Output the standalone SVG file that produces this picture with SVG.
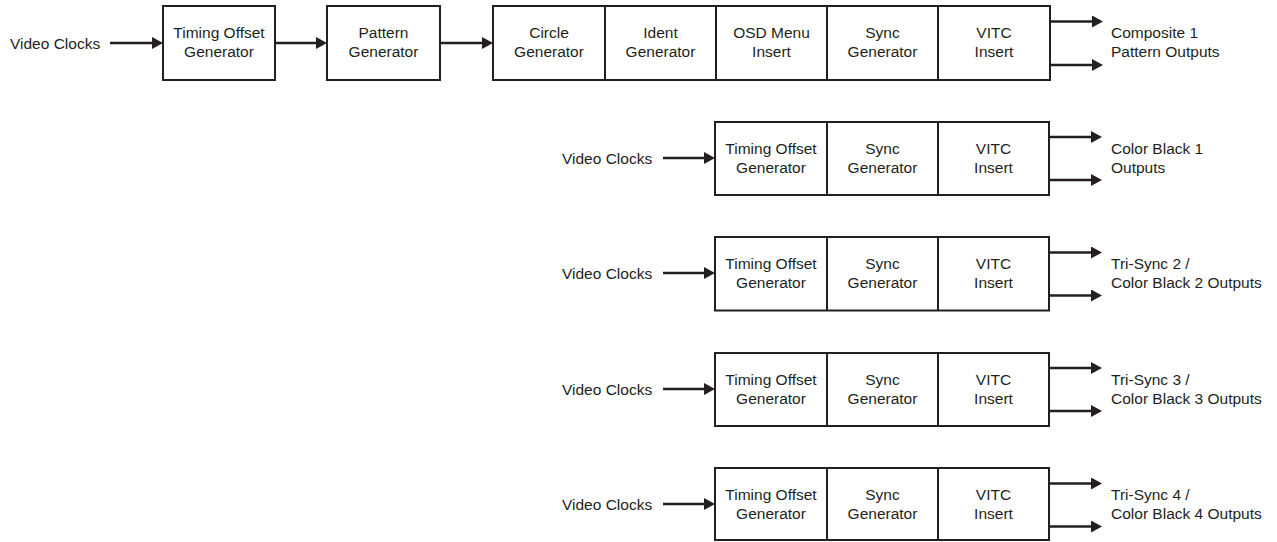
<svg xmlns="http://www.w3.org/2000/svg" width="1277" height="542" viewBox="0 0 1277 542">
<style>
.box{fill:#fff;stroke:#231f20;stroke-width:2}
.div{stroke:#231f20;stroke-width:2}
.t{font-family:"Liberation Sans",Arial,sans-serif;font-size:15.5px;fill:#231f20}
.c{text-anchor:middle}
.w{stroke:#231f20;stroke-width:2.4;fill:none;marker-end:url(#ah)}
</style>
<defs>
<marker id="ah" markerUnits="userSpaceOnUse" markerWidth="13" markerHeight="13" refX="7" refY="6" orient="auto">
<path d="M0,0 L11,6 L0,12 z" fill="#231f20"/>
</marker>
</defs>
<rect width="1277" height="542" fill="#fff"/>

<g id="connectors">
<line class="w" x1="110" y1="43" x2="159" y2="43"/>
<line class="w" x1="275" y1="43" x2="323" y2="43"/>
<line class="w" x1="440" y1="43" x2="489" y2="43"/>
<line class="w" x1="1050" y1="21.5" x2="1099" y2="21.5"/>
<line class="w" x1="1050" y1="65" x2="1099" y2="65"/>

<line class="w" x1="663" y1="158" x2="711" y2="158"/>
<line class="w" x1="1049" y1="137" x2="1098" y2="137"/>
<line class="w" x1="1049" y1="180" x2="1098" y2="180"/>

<line class="w" x1="663" y1="273" x2="711" y2="273"/>
<line class="w" x1="1049" y1="252.5" x2="1098" y2="252.5"/>
<line class="w" x1="1049" y1="295.5" x2="1098" y2="295.5"/>

<line class="w" x1="663" y1="389" x2="711" y2="389"/>
<line class="w" x1="1049" y1="368" x2="1098" y2="368"/>
<line class="w" x1="1049" y1="411" x2="1098" y2="411"/>

<line class="w" x1="663" y1="504" x2="711" y2="504"/>
<line class="w" x1="1049" y1="483.5" x2="1098" y2="483.5"/>
<line class="w" x1="1049" y1="526.5" x2="1098" y2="526.5"/>
</g>

<g id="row1-input"><text class="t" x="10" y="48.5">Video Clocks</text></g>
<g id="row1-timing">
<rect class="box" x="163" y="6" width="112" height="74"/>
<text class="t c" x="219" y="38">Timing Offset</text>
<text class="t c" x="219" y="57">Generator</text>
</g>
<g id="row1-pattern">
<rect class="box" x="327" y="6" width="113" height="74"/>
<text class="t c" x="383.5" y="38">Pattern</text>
<text class="t c" x="383.5" y="57">Generator</text>
</g>
<g id="row1-chain">
<rect class="box" x="493" y="6" width="557" height="74"/>
<line class="div" x1="605" y1="6" x2="605" y2="80"/>
<line class="div" x1="716" y1="6" x2="716" y2="80"/>
<line class="div" x1="827" y1="6" x2="827" y2="80"/>
<line class="div" x1="938" y1="6" x2="938" y2="80"/>
<text class="t c" x="549" y="38">Circle</text>
<text class="t c" x="549" y="57">Generator</text>
<text class="t c" x="660.5" y="38">Ident</text>
<text class="t c" x="660.5" y="57">Generator</text>
<text class="t c" x="771.5" y="38">OSD Menu</text>
<text class="t c" x="771.5" y="57">Insert</text>
<text class="t c" x="882.5" y="38">Sync</text>
<text class="t c" x="882.5" y="57">Generator</text>
<text class="t c" x="994" y="38">VITC</text>
<text class="t c" x="994" y="57">Insert</text>
</g>
<g id="row1-output">
<text class="t" x="1111" y="38">Composite 1</text>
<text class="t" x="1111" y="57">Pattern Outputs</text>
</g>

<g id="row2">
<text class="t" x="562" y="163.5">Video Clocks</text>
<rect class="box" x="715" y="122" width="334" height="73"/>
<line class="div" x1="827" y1="122" x2="827" y2="195"/>
<line class="div" x1="938" y1="122" x2="938" y2="195"/>
<text class="t c" x="771" y="154">Timing Offset</text>
<text class="t c" x="771" y="173">Generator</text>
<text class="t c" x="882.5" y="154">Sync</text>
<text class="t c" x="882.5" y="173">Generator</text>
<text class="t c" x="993.5" y="154">VITC</text>
<text class="t c" x="993.5" y="173">Insert</text>
<text class="t" x="1111" y="154">Color Black 1</text>
<text class="t" x="1111" y="173">Outputs</text>
</g>

<g id="row3">
<text class="t" x="562" y="278.5">Video Clocks</text>
<rect class="box" x="715" y="237" width="334" height="73.5"/>
<line class="div" x1="827" y1="237" x2="827" y2="310.5"/>
<line class="div" x1="938" y1="237" x2="938" y2="310.5"/>
<text class="t c" x="771" y="269">Timing Offset</text>
<text class="t c" x="771" y="288">Generator</text>
<text class="t c" x="882.5" y="269">Sync</text>
<text class="t c" x="882.5" y="288">Generator</text>
<text class="t c" x="993.5" y="269">VITC</text>
<text class="t c" x="993.5" y="288">Insert</text>
<text class="t" x="1111" y="269">Tri-Sync 2 /</text>
<text class="t" x="1111" y="288">Color Black 2 Outputs</text>
</g>

<g id="row4">
<text class="t" x="562" y="394.5">Video Clocks</text>
<rect class="box" x="715" y="353" width="334" height="73"/>
<line class="div" x1="827" y1="353" x2="827" y2="426"/>
<line class="div" x1="938" y1="353" x2="938" y2="426"/>
<text class="t c" x="771" y="385">Timing Offset</text>
<text class="t c" x="771" y="404">Generator</text>
<text class="t c" x="882.5" y="385">Sync</text>
<text class="t c" x="882.5" y="404">Generator</text>
<text class="t c" x="993.5" y="385">VITC</text>
<text class="t c" x="993.5" y="404">Insert</text>
<text class="t" x="1111" y="385">Tri-Sync 3 /</text>
<text class="t" x="1111" y="404">Color Black 3 Outputs</text>
</g>

<g id="row5">
<text class="t" x="562" y="509.5">Video Clocks</text>
<rect class="box" x="715" y="468" width="334" height="72"/>
<line class="div" x1="827" y1="468" x2="827" y2="540"/>
<line class="div" x1="938" y1="468" x2="938" y2="540"/>
<text class="t c" x="771" y="500">Timing Offset</text>
<text class="t c" x="771" y="519">Generator</text>
<text class="t c" x="882.5" y="500">Sync</text>
<text class="t c" x="882.5" y="519">Generator</text>
<text class="t c" x="993.5" y="500">VITC</text>
<text class="t c" x="993.5" y="519">Insert</text>
<text class="t" x="1111" y="500">Tri-Sync 4 /</text>
<text class="t" x="1111" y="519">Color Black 4 Outputs</text>
</g>
</svg>
